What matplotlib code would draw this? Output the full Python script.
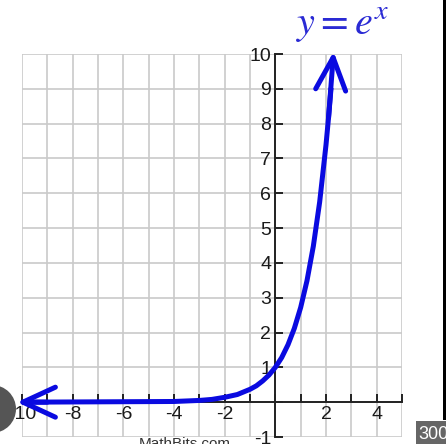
"""y = e^x graph, MathBits style."""
import matplotlib
matplotlib.use('Agg')
import matplotlib.pyplot as plt
from matplotlib.patches import Ellipse, Rectangle

plt.rcParams.update({'font.family': ['Liberation Sans Narrow', 'Liberation Sans', 'DejaVu Sans'],
                     'mathtext.fontset': 'stix'})

# ---- data ----
curve_x = [-10.0, -4.0, -3.0, -2.5, -2.0, -1.5, -1.0, -0.75, -0.5, -0.25, 0.0,
           0.25, 0.5, 0.75, 1.0, 1.25, 1.5, 1.75, 2.0, 2.1, 2.2, 2.3]
curve_y = [0.0, 0.02, 0.05, 0.08, 0.14, 0.22, 0.37, 0.47, 0.61, 0.78, 1.0,
           1.28, 1.65, 2.12, 2.72, 3.49, 4.48, 5.75, 7.39, 8.17, 9.03, 9.97]
xtick_labels = [-10, -8, -6, -4, -2, 2, 4]
ytick_labels = [-1, 1, 2, 3, 4, 5, 6, 7, 8, 9, 10]
xlim = (-10, 5)
ylim = (-1, 10)

BLUE = '#0a0ae0'
GRID = '#cacaca'
AXC = '#222222'

fig = plt.figure(figsize=(4.46, 4.44), dpi=100)
ax = fig.add_axes([22/446, 7/444, 380/446, 383/444])
ax.set_xlim(*xlim); ax.set_ylim(*ylim)

# grid every unit
for gx in range(xlim[0], xlim[1] + 1):
    ax.axvline(gx, color=GRID, lw=1.2, zorder=0)
for gy in range(ylim[0], ylim[1] + 1):
    ax.axhline(gy, color=GRID, lw=1.2, zorder=0)

# axes through the origin
for s in ['top', 'right']:
    ax.spines[s].set_visible(False)
ax.spines['left'].set_position(('data', 0))
ax.spines['bottom'].set_position(('data', 0))
ax.spines['left'].set_bounds(-1, 10)
for s in ['left', 'bottom']:
    ax.spines[s].set_color(AXC); ax.spines[s].set_linewidth(1.4); ax.spines[s].set_zorder(1)

ax.set_xticks(range(xlim[0], xlim[1] + 1))
ax.set_xticklabels([str(v) if v in xtick_labels else '' for v in range(xlim[0], xlim[1] + 1)])
ax.set_yticks(range(ylim[0], ylim[1] + 1))
ax.set_yticklabels([str(v) if v in ytick_labels else '' for v in range(ylim[0], ylim[1] + 1)])
ax.tick_params(direction='in', length=5.5, width=1.4, color=AXC, labelsize=14,
               labelcolor='#1a1a1a')
ax.tick_params(axis='x', pad=3)
ax.tick_params(axis='y', pad=3)

# the curve with open arrowheads at both ends
ax.plot(curve_x[:-1], curve_y[:-1], color=BLUE, lw=3.6, solid_capstyle='butt', zorder=3,
        clip_on=False)
arr = dict(arrowstyle='->,head_length=1.3,head_width=0.6', color=BLUE, lw=3.6,
           mutation_scale=18, shrinkA=0, shrinkB=0)
ax.annotate('', xy=(curve_x[-1], curve_y[-1] + 0.1), xytext=(curve_x[-3], curve_y[-3]),
            arrowprops=arr, zorder=4, annotation_clip=False)
ax.annotate('', xy=(-10.2, 0), xytext=(-9.0, 0), arrowprops=arr, zorder=4,
            annotation_clip=False)

# title
fig.text(343/446, 1 - 25/444, r'$y = e^x$', ha='center', va='center',
         fontsize=29, color='#2a2ad4')

# screenshot leftovers
fig.text(185/446, 1 - 437/444, 'MathBits.com', ha='center', va='top', fontsize=11,
         color='#333333', family=['Liberation Sans', 'DejaVu Sans'])
fig.patches.append(Ellipse((-8/446, 1 - 409/444), 48/446, 48/444, transform=fig.transFigure,
                           facecolor='#555555', edgecolor='none', zorder=10))
fig.patches.append(Rectangle((443/446, 1 - 420/444), 3/446, 420/444, transform=fig.transFigure,
                             facecolor='#000000', edgecolor='none', zorder=10))
fig.patches.append(Rectangle((416/446, 0), 30/446, 23/444, transform=fig.transFigure,
                             facecolor='#666666', edgecolor='none', zorder=10))
fig.text(418/446, 1 - 426/444, '300', ha='left', va='top', fontsize=13, color='white',
         family=['Liberation Sans', 'DejaVu Sans'], zorder=11)

fig.savefig('out.png', dpi=100, facecolor='white')
